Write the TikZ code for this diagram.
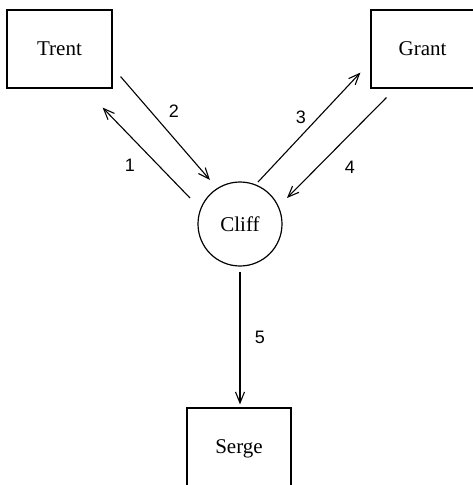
\documentclass[tikz,border=0pt]{standalone}
\usepackage{fontspec}
\setmainfont{Liberation Serif}
\newfontfamily\numfont{Liberation Sans}
\usetikzlibrary{arrows.meta}
\tikzset{
  person/.style={draw, line width=1.2pt, font=\fontsize{21}{24}\selectfont, inner sep=0pt},
  hub/.style={draw, circle, line width=1.2pt, minimum size=84pt, inner sep=0pt, font=\fontsize{21}{24}\selectfont},
  msg/.style={line width=1.1pt, -{Straight Barb[length=11pt,width=9pt,line width=1.1pt]}},
  num/.style={font=\numfont\fontsize{18}{20}\selectfont, inner sep=0pt}
}
\begin{document}
\begin{tikzpicture}[x=1pt,y=-1pt]
\useasboundingbox (0,0) rectangle (472,485);
\node[person, minimum width=105pt, minimum height=78pt] (trent) at (59.5,49) {Trent};
\node[person, minimum width=103pt, minimum height=78pt] (grant) at (422.5,49) {Grant};
\node[hub] (cliff) at (240,224) {Cliff};
\node[person, minimum width=104pt, minimum height=82pt] (serge) at (239,449) {Serge};
\draw[msg] ([shift={(-50,-26)}]cliff.center) -- ([shift={(-10,19)}]trent.south east);
\draw[msg] ([shift={(8,-12)}]trent.south east) -- ([shift={(-30,-44)}]cliff.center);
\draw[msg] ([shift={(18,-42)}]cliff.center) -- ([shift={(-10,-16)}]grant.south west);
\draw[msg] ([shift={(16,9)}]grant.south west) -- ([shift={(47,-26)}]cliff.center);
\draw[msg] ([shift={(0,48)}]cliff.center) -- ([shift={(1,-3)}]serge.north);
\node[num] (l1) at (130,165) {1};
\node[num] (l2) at (174,111) {2};
\node[num] (l3) at (301,117) {3};
\node[num] (l4) at (350,167) {4};
\node[num] (l5) at (260,337) {5};
\end{tikzpicture}
\end{document}
